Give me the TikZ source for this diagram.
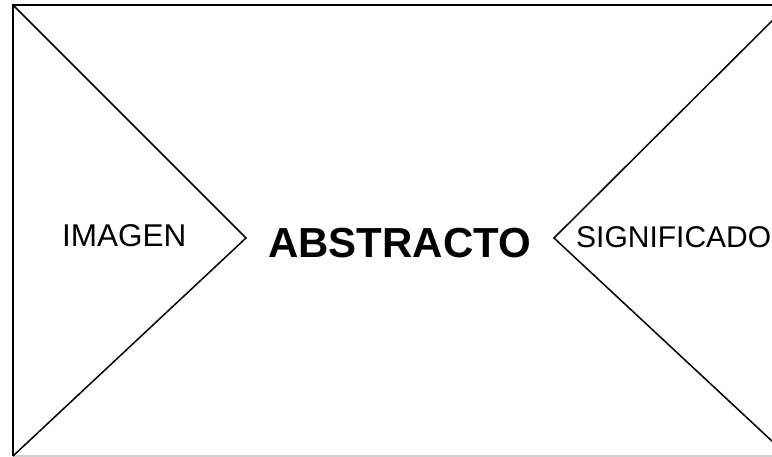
\documentclass[tikz,border=0pt]{standalone}
\usepackage{fontspec}
\setmainfont{Liberation Sans}
\usetikzlibrary{positioning}
\definecolor{frameGray}{HTML}{D0D0D0}
\tikzset{
  frameLine/.style={black, line width=2pt},
  wedgeLine/.style={black, line width=1.5pt, line join=miter},
  baseLine/.style={frameGray, line width=1.2pt},
  labelN/.style={inner sep=0pt, anchor=base west, font=\fontsize{31.5}{36}\selectfont},
  labelB/.style={inner sep=0pt, anchor=base west, font=\bfseries\fontsize{42}{48}\selectfont},
}
\begin{document}
\begin{tikzpicture}[x=1pt, y=-1pt]
    \useasboundingbox (0,0) rectangle (772,457);
    \clip (0,0) rectangle (772,457);
    % frame corners and wedge tips
    \coordinate (tl) at (13,5);
    \coordinate (tr) at (788,5);
    \coordinate (bl) at (13,456);
    \coordinate (br) at (788,456);
    \coordinate (lTip) at (246,238);
    \coordinate (rTip) at (554,238);
    % frame
    \draw[baseLine] (bl) -- (br);
    \draw[frameLine] (bl) -- (tl) -- (tr);
    % wedges
    \draw[wedgeLine] (tl) -- (lTip) -- (bl);
    \draw[wedgeLine] (tr) -- (rTip) -- (br);
    % labels
    \node[labelN] (img) at (62,247) {IMAGEN};
    \node[labelB] (abs) at (268,258) {ABSTRACTO};
    \node[labelN, font=\fontsize{30}{36}\selectfont] (sig) at (576,248) {SIGNIFICADO};
\end{tikzpicture}
\end{document}
